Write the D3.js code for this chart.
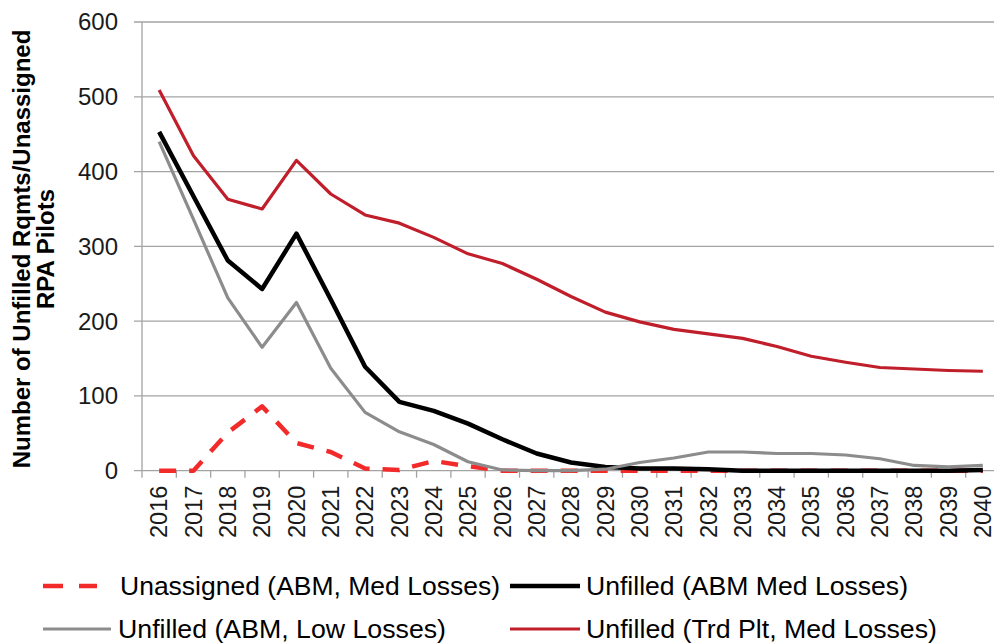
<!DOCTYPE html>
<html>
<head>
<meta charset="utf-8">
<script src="https://cdn.jsdelivr.net/npm/d3@7/dist/d3.min.js"></script>
<style>
  html, body { margin: 0; padding: 0; background: #fff; }
  svg { display: block; font-family: Arial, "Liberation Sans", sans-serif; }
</style>
</head>
<body>
<svg id="chart" width="994" height="643"></svg>
<script>
// Years on the category axis
const years = ["2016","2017","2018","2019","2020","2021","2022","2023","2024","2025","2026","2027","2028",
               "2029","2030","2031","2032","2033","2034","2035","2036","2037","2038","2039","2040"];

// Pilot counts per year for each scenario
const unassignedAbmMed = [0, 0, 51, 86, 37, 25, 3, 1, 13, 6, 0, 0, 0, 0, 0, 0, 0, 0, 0, 0, 0, 0, 0, 0, 0];
const unfilledAbmMed   = [453, 367, 281, 243, 317, 229, 139, 92, 80, 63, 42, 23, 11, 5, 3, 3, 2, 0, 0, 0, 0, 0, 0, 0, 1];
const unfilledAbmLow   = [440, 336, 231, 165, 225, 137, 78, 52, 35, 12, 1, 0, 0, 2, 11, 17, 25, 25, 23, 23, 21, 16, 7, 5, 7];
const unfilledTrdPlt   = [509, 421, 363, 350, 415, 370, 342, 331, 312, 290, 277, 256, 233, 212, 199, 189, 183, 177, 166, 153, 145, 138, 136, 134, 133];

const yTicks = [0, 100, 200, 300, 400, 500, 600];

const seriesNames = ["Unassigned (ABM, Med Losses)", "Unfilled (ABM Med Losses)",
                     "Unfilled (ABM, Low Losses)", "Unfilled (Trd Plt, Med Losses)"];

const svg = d3.select("#chart");
const plot = { left: 142, right: 1000, top: 22, bottom: 470.7 };

const x = d3.scaleBand().domain(years).range([plot.left, plot.right]).padding(0);
const cx = d => x(d) + x.bandwidth() / 2;
const y = d3.scaleLinear().domain([0, 600]).range([plot.bottom, plot.top]);

const gridColor = "#a3a3a3";

// Horizontal gridlines and left tick marks
svg.append("g").selectAll("line")
  .data(yTicks)
  .join("line")
  .attr("x1", plot.left - 8).attr("x2", plot.right)
  .attr("y1", d => y(d)).attr("y2", d => y(d))
  .attr("stroke", gridColor).attr("stroke-width", 1.3);

// Value axis line
svg.append("line")
  .attr("x1", plot.left).attr("x2", plot.left)
  .attr("y1", plot.top).attr("y2", plot.bottom + 7)
  .attr("stroke", gridColor).attr("stroke-width", 1.3);

// Category boundary ticks
svg.append("g").selectAll("line")
  .data(years)
  .join("line")
  .attr("x1", d => x(d) + x.bandwidth())
  .attr("x2", d => x(d) + x.bandwidth())
  .attr("y1", plot.bottom).attr("y2", plot.bottom + 7)
  .attr("stroke", gridColor).attr("stroke-width", 1.3);

// Value axis labels
svg.append("g").selectAll("text")
  .data(yTicks)
  .join("text")
  .attr("x", 118).attr("y", d => y(d))
  .attr("dy", "0.35em")
  .attr("text-anchor", "end")
  .attr("font-size", 24)
  .attr("fill", "#1a1a1a")
  .text(d => d);

// Category labels, rotated
svg.append("g").selectAll("text")
  .data(years)
  .join("text")
  .attr("transform", d => `translate(${cx(d)},${plot.bottom + 15}) rotate(-90)`)
  .attr("dy", "0.35em")
  .attr("text-anchor", "end")
  .attr("font-size", 23.5)
  .attr("fill", "#1a1a1a")
  .text(d => d);

// Axis title
const title = svg.append("text")
  .attr("transform", "translate(34,249) rotate(-90)")
  .attr("text-anchor", "middle")
  .attr("font-size", 24)
  .attr("font-weight", "bold")
  .attr("fill", "#000");
title.append("tspan").attr("x", 0).attr("dy", "-0.15em").text("Number of Unfilled Rqmts/Unassigned");
title.append("tspan").attr("x", 0).attr("dy", "1.0em").text("RPA Pilots");

// Series lines
const line = d3.line().x((d, i) => cx(years[i])).y(d => y(d));

const styles = [
  { data: unassignedAbmMed, color: "#f22a2a", width: 4.5, dash: "17,13", legendDash: "20,16", legendLen: 54 },
  { data: unfilledAbmMed,   color: "#000000", width: 4.5, dash: null, legendDash: null, legendLen: 70 },
  { data: unfilledAbmLow,   color: "#8c8c8c", width: 3.2, dash: null, legendDash: null, legendLen: 68 },
  { data: unfilledTrdPlt,   color: "#bf1e2a", width: 3.2, dash: null, legendDash: null, legendLen: 70 }
];

styles.forEach(s => {
  svg.append("path")
    .datum(s.data)
    .attr("d", line)
    .attr("fill", "none")
    .attr("stroke", s.color)
    .attr("stroke-width", s.width)
    .attr("stroke-linejoin", "round")
    .attr("stroke-dasharray", s.dash);
});

// Legend
const legendItems = [
  { s: styles[0], name: seriesNames[0], lx: 43,  tx: 120, ty: 586, w: 380 },
  { s: styles[1], name: seriesNames[1], lx: 510, tx: 586, ty: 586, w: 322 },
  { s: styles[2], name: seriesNames[2], lx: 43,  tx: 118, ty: 629, w: 328 },
  { s: styles[3], name: seriesNames[3], lx: 510, tx: 586, ty: 629, w: 351 }
];
const lg = svg.append("g");
legendItems.forEach(it => {
  lg.append("line")
    .attr("x1", it.lx).attr("x2", it.lx + it.s.legendLen)
    .attr("y1", it.ty).attr("y2", it.ty)
    .attr("stroke", it.s.color)
    .attr("stroke-width", it.s.width)
    .attr("stroke-dasharray", it.s.legendDash);
  lg.append("text")
    .attr("x", it.tx).attr("y", it.ty)
    .attr("dy", "0.35em")
    .attr("font-size", 25)
    .attr("textLength", it.w)
    .attr("lengthAdjust", "spacingAndGlyphs")
    .attr("fill", "#000")
    .text(it.name);
});
</script>
</body>
</html>
